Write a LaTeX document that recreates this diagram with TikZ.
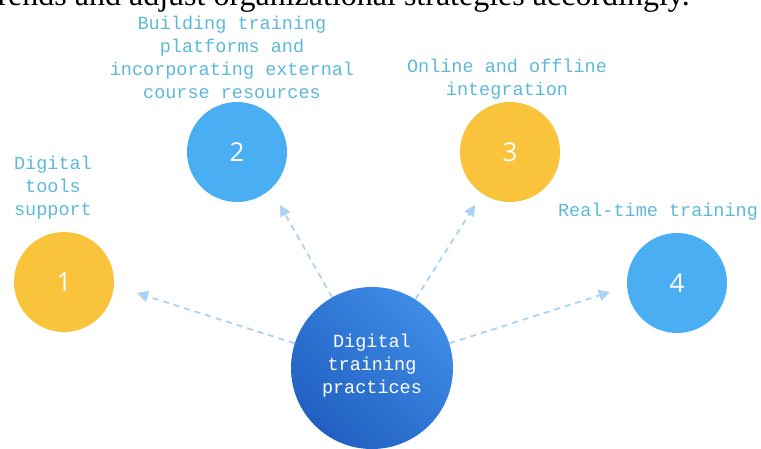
\documentclass[tikz,border=0pt]{standalone}
\usepackage{fontspec}
\setmainfont{Liberation Serif}
\newfontfamily\labfont{Liberation Mono}
\newfontfamily\numfont{Open Sans}
\usetikzlibrary{arrows.meta}
\definecolor{cyel}{HTML}{F9C33B}
\definecolor{cblu}{HTML}{4AAEF2}
\definecolor{clab}{HTML}{5DB8DA}
\definecolor{carr}{HTML}{A9D3F5}
\definecolor{cmidA}{HTML}{3F8CE6}
\definecolor{cmidB}{HTML}{2160C2}
\tikzset{
  numcirc/.style={circle, minimum size=100pt, inner sep=0pt, text=white,
    font=\numfont\fontsize{26}{30}\selectfont},
  lab/.style={text=clab, align=center, inner sep=0pt,
    font=\labfont\fontsize{18.5}{23}\selectfont},
  conn/.style={draw=carr, line width=1.8pt, dash pattern=on 6pt off 5pt,
    -{Triangle[length=11pt,width=11pt]}},
}
\begin{document}
\begin{tikzpicture}[x=1pt,y=-1pt]
\useasboundingbox (0,0) rectangle (761,449);
\node[anchor=base east, inner sep=0pt, font=\fontsize{32}{36}\selectfont] (top) at (690,6) {trends and adjust organizational strategies accordingly.};
\node[numcirc, fill=cyel] (n1) at (64,282) {1};
\node[numcirc, fill=cblu] (n2) at (237,152) {2};
\node[numcirc, fill=cyel] (n3) at (510,152) {3};
\node[numcirc, fill=cblu] (n4) at (677,283) {4};
\shade[left color=cmidA, right color=cmidB, shading angle=-45] (372,368) circle (81);
\node[circle, minimum size=162pt, inner sep=0pt] (c) at (372,368) {};
\node[lab, text=white] (ct) at (372,366) {Digital\\training\\practices};
\node[lab] (l1) at (53,188) {Digital\\tools\\support};
\node[lab] (l2) at (232,57) {Building training\\platforms and\\incorporating external\\course resources};
\node[lab] (l3) at (507,79) {Online and offline\\integration};
\node[lab] (l4) at (658,212) {Real-time training};
\coordinate (t1) at (137,293);
\coordinate (t2) at (280,205);
\coordinate (t3) at (475,205);
\coordinate (t4) at (610,292);
\draw[conn] (c) -- (t1);
\draw[conn] (c) -- (t2);
\draw[conn] (c) -- (t3);
\draw[conn] (c) -- (t4);
\end{tikzpicture}
\end{document}
